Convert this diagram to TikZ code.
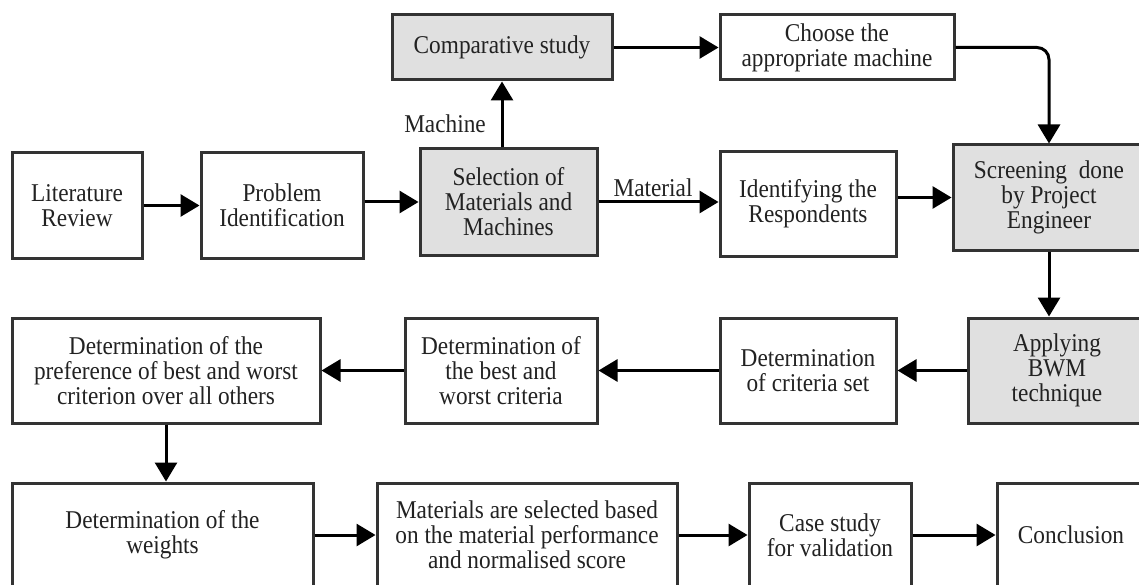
\documentclass[tikz,border=0pt]{standalone}
\usepackage{fontspec}
\setmainfont[FakeStretch=0.91]{Liberation Serif}
\usetikzlibrary{arrows.meta}
\definecolor{boxgrey}{HTML}{E0E0E0}
\definecolor{edgegrey}{HTML}{333333}
\definecolor{txt}{HTML}{222222}
\tikzset{
  box/.style={draw=edgegrey, line width=3pt, align=center, inner sep=2pt,
    font=\fontsize{25.6}{25}\selectfont, text=txt},
  greybox/.style={box, fill=boxgrey},
  arr/.style={draw=black, line width=3pt, -{Triangle[length=19pt,width=22pt]}},
  lbl/.style={font=\fontsize{25.6}{25}\selectfont, text=txt, inner sep=0pt}
}
\begin{document}
\begin{tikzpicture}[x=1pt,y=-1pt]
\useasboundingbox (0,0) rectangle (1139,585);
\clip (0,0) rectangle (1139,585);
\fill[white] (0,0) rectangle (1139,585);
% row 1
\node[greybox, minimum width=220pt, minimum height=65pt] (comp) at (502,47.5) {Comparative study};
\node[box, minimum width=234pt, minimum height=65pt] (choose) at (837,47.5) {Choose the\\appropriate machine};
% row 2
\node[box, minimum width=130pt, minimum height=105pt] (lit) at (77,205.5) {Literature\\Review};
\node[box, minimum width=162pt, minimum height=105pt] (prob) at (282,205.5) {Problem\\Identification};
\node[greybox, minimum width=177pt, minimum height=106pt] (sel) at (508.5,202) {Selection of\\Materials and\\Machines};
\node[box, minimum width=176pt, minimum height=104pt] (ident) at (808,204) {Identifying the\\Respondents};
\node[greybox, minimum width=192pt, minimum height=105pt] (screen) at (1049,197.5) {Screening~~done\\by Project\\Engineer};
% row 3
\node[box, minimum width=308pt, minimum height=105pt] (pref) at (166,370.5) {Determination of the\\preference of best and worst\\criterion over all others};
\node[box, minimum width=192pt, minimum height=105pt] (best) at (501,370.5) {Determination of\\the best and\\worst criteria};
\node[box, minimum width=176pt, minimum height=105pt] (crit) at (808,370.5) {Determination\\of criteria set};
\node[greybox, minimum width=178pt, minimum height=105pt] (bwm) at (1057,370.5) {Applying\\BWM\\technique};
% row 4
\node[box, minimum width=301pt, minimum height=104pt] (wts) at (162.5,535) {Determination of the\\weights};
\node[box, minimum width=300pt, minimum height=104pt] (mat) at (527,535) {Materials are selected based\\on the material performance\\and normalised score};
\node[box, minimum width=162pt, minimum height=104pt] (case) at (830,535) {Case study\\for validation};
\node[box, minimum width=148pt, minimum height=104pt] (concl) at (1071,535) {Conclusion};
% labels
\node[lbl] (machine) at (445,124) {Machine};
\node[lbl] (material) at (653,188) {Material};
% connectors
\draw[arr] (lit.east) -- (prob.west);
\draw[arr] (sel.west -| prob.east) -- (sel.west);
\draw[arr] (comp.south |- sel.north) -- (comp.south);
\draw[arr] (sel.east) -- (sel.east -| ident.west);
\draw[arr] (comp.east) -- (choose.west);
\draw[arr, rounded corners=12pt] (choose.east) -- (choose.east -| screen.north) -- (screen.north);
\draw[arr] (screen.west -| ident.east) -- (screen.west);
\draw[arr] (screen.south) -- (screen.south |- bwm.north);
\draw[arr] (bwm.west) -- (crit.east);
\draw[arr] (crit.west) -- (best.east);
\draw[arr] (best.west) -- (pref.east);
\draw[arr] (pref.south) -- (pref.south |- wts.north);
\draw[arr] (wts.east) -- (mat.west);
\draw[arr] (mat.east) -- (case.west);
\draw[arr] (case.east) -- (concl.west);
\end{tikzpicture}
\end{document}
